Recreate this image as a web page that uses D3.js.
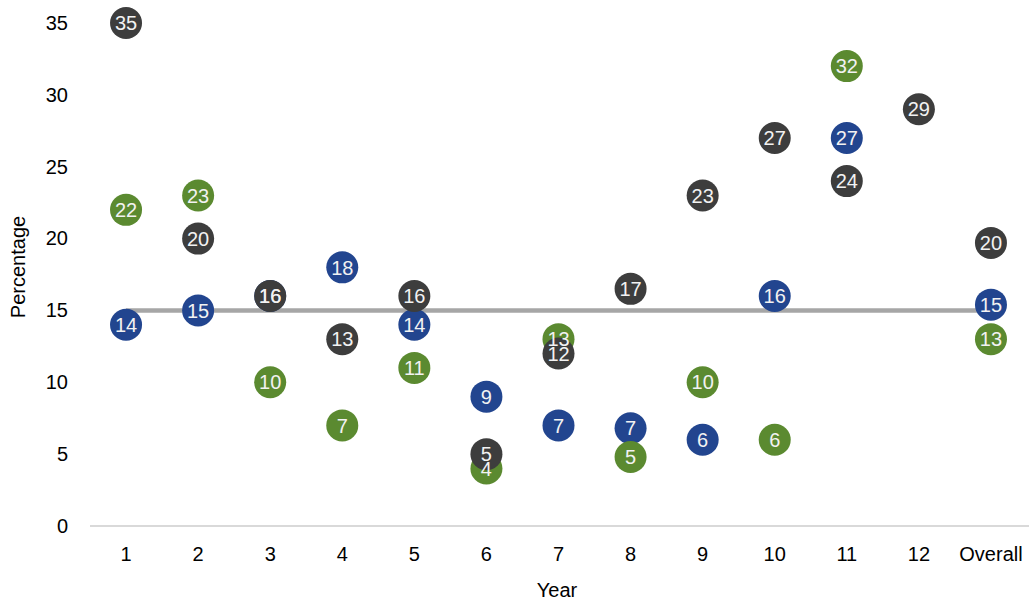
<!DOCTYPE html>
<html>
<head>
<meta charset="utf-8">
<script src="https://cdn.jsdelivr.net/npm/d3@7"></script>
<style>
  html, body { margin: 0; padding: 0; background: #fff; }
  svg { display: block; font-family: "Liberation Sans", Arial, sans-serif; }
</style>
</head>
<body>
<svg id="chart" width="1029" height="602"></svg>
<script>
const categories = ["1","2","3","4","5","6","7","8","9","10","11","12","Overall"];
const blueValues  = [14, 15, 16, 18, 14, 9, 7, 6.8, 6, 16, 27, null, 15.4];
const greenValues = [22, 23, 10, 7, 11, 4, 13, 4.8, 10, 6, 32, null, 13];
const darkValues  = [35, 20, 16, 13, 16, 5, 12, 16.5, 23, 27, 24, 29, 19.7];
const referenceValue = 15;
const yTicks = [0, 5, 10, 15, 20, 25, 30, 35];

const series = [
  { name: "blue",  values: blueValues,  color: "#22458f" },
  { name: "green", values: greenValues, color: "#5b8a30" },
  { name: "dark",  values: darkValues,  color: "#3d3d3d" }
];

const svg = d3.select("#chart");
const x = d3.scaleBand().domain(categories).range([90, 1027]).padding(0);
const y = d3.scaleLinear().domain([0, 35]).range([526, 23]);
const cx = c => x(c) + x.bandwidth() / 2;

// x axis
const xAxis = svg.append("g").attr("transform", `translate(0,${y(0)})`)
  .call(d3.axisBottom(x).tickSize(0).tickPadding(21));
xAxis.select(".domain").attr("stroke", "#d9d9d9").attr("stroke-width", 2)
  .attr("d", `M90,0H1029`);
xAxis.selectAll("text").attr("font-size", 20).attr("fill", "#000")
  .attr("font-family", "Liberation Sans, Arial, sans-serif");

// y axis
const yAxis = svg.append("g").attr("transform", `translate(90,0)`)
  .call(d3.axisLeft(y).tickValues(yTicks).tickSize(0).tickPadding(22));
yAxis.select(".domain").remove();
yAxis.selectAll("text").attr("font-size", 20).attr("fill", "#000")
  .attr("font-family", "Liberation Sans, Arial, sans-serif");

// axis titles
svg.append("text").attr("x", 557).attr("y", 597).attr("text-anchor", "middle")
  .attr("font-size", 20).attr("fill", "#000").text("Year");
svg.append("text").attr("transform", `translate(25,267) rotate(-90)`)
  .attr("text-anchor", "middle").attr("font-size", 20).attr("fill", "#000").text("Percentage");

// reference line
const line = d3.line().x(d => cx(d)).y(() => y(referenceValue));
svg.append("path").attr("d", line(categories)).attr("fill", "none")
  .attr("stroke", "#a6a6a6").attr("stroke-width", 4.5);

// circles
series.forEach(s => {
  const pts = categories.map((c, i) => ({ c, v: s.values[i] })).filter(d => d.v != null);
  svg.append("g").selectAll("circle").data(pts).join("circle")
    .attr("cx", d => cx(d.c)).attr("cy", d => y(d.v)).attr("r", 16)
    .attr("fill", s.color);
});

// labels
series.forEach(s => {
  const pts = categories.map((c, i) => ({ c, v: s.values[i] })).filter(d => d.v != null);
  svg.append("g").selectAll("text").data(pts).join("text")
    .attr("x", d => cx(d.c)).attr("y", d => y(d.v)).attr("dy", "0.36em")
    .attr("text-anchor", "middle").attr("font-size", 20).attr("fill", "#f2f2f2")
    .text(d => Math.round(d.v));
});
</script>
</body>
</html>
